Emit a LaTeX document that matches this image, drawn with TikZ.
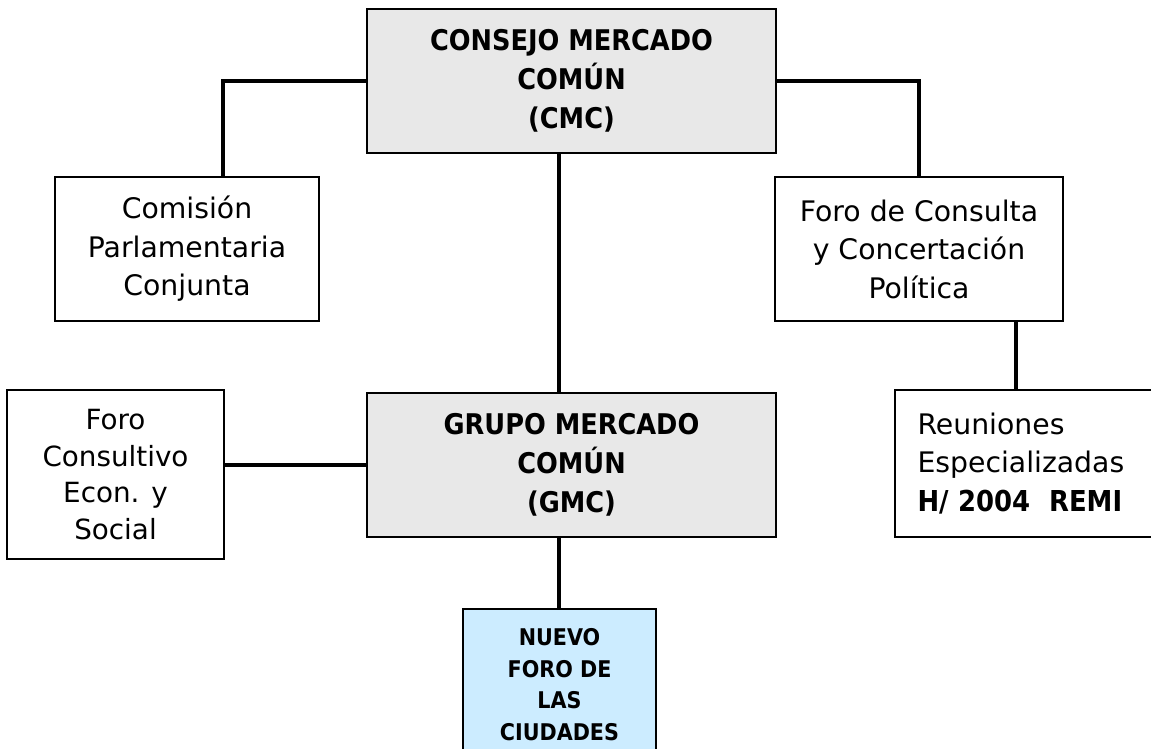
\documentclass[tikz,border=0pt]{standalone}
\usepackage{fontspec}
\setmainfont{DejaVu Sans}
\newfontfamily\condbold{DejaVu Sans Condensed Bold}
\definecolor{boxgray}{HTML}{E8E8E8}
\definecolor{boxblue}{HTML}{CCECFF}
\begin{document}
\begin{tikzpicture}[x=1pt,y=-1pt,
  box/.style={draw=black, line width=1.7pt, rectangle, inner sep=0pt, align=center,
    font=\fontsize{28.3}{38.5}\selectfont},
  graybox/.style={box, fill=boxgray, font=\fontsize{28.5}{39}\selectfont\condbold},
  conn/.style={line width=3.8pt}]
\useasboundingbox (0,0) rectangle (1151,749);
\node[graybox, minimum width=409pt, minimum height=144pt] (cmc) at (571.5,81) {CONSEJO MERCADO\\COMÚN\\(CMC)};
\node[graybox, minimum width=409pt, minimum height=144pt] (gmc) at (571.5,465) {GRUPO MERCADO\\COMÚN\\(GMC)};
\node[box, minimum width=264pt, minimum height=144pt] (com) at (187,249) {Comisión\\Parlamentaria\\Conjunta};
\node[box, minimum width=288pt, minimum height=144pt] (fcp) at (919,249) {Foro de Consulta\\y Concertación\\Política};
\node[box, minimum width=217pt, minimum height=169pt, font=\fontsize{27.8}{36.5}\selectfont] (fces) at (115.5,474.5) {Foro\\Consultivo\\Econ. y\\Social};
\node[box, minimum width=265pt, minimum height=147pt, align=left, text width=220pt] (rem) at (1027.5,463.5) {Reuniones\\Especializadas\\{\condbold\fontsize{28.8}{38.5}\selectfont H/ 2004\ \ REMI}};
\node[box, fill=boxblue, minimum width=193pt, minimum height=151pt, font=\fontsize{23}{31.5}\selectfont\condbold] (nuevo) at (559.5,684.5) {NUEVO\\FORO DE\\LAS\\CIUDADES};
\draw[conn] (cmc.west) -| ([xshift=36pt]com.north);
\draw[conn] (cmc.east) -| (fcp.north);
\draw[conn] ([xshift=-12.5pt]gmc.north) -- ([xshift=-12.5pt]gmc.north |- cmc.south);
\draw[conn] ([xshift=-12.5pt]gmc.south) -- ([xshift=-12.5pt]gmc.south |- nuevo.north);
\draw[conn] (gmc.west) -- (gmc.west -| fces.east);
\draw[conn] ([xshift=97pt]fcp.south) -- ([xshift=97pt]fcp.south |- rem.north);
\end{tikzpicture}
\end{document}
